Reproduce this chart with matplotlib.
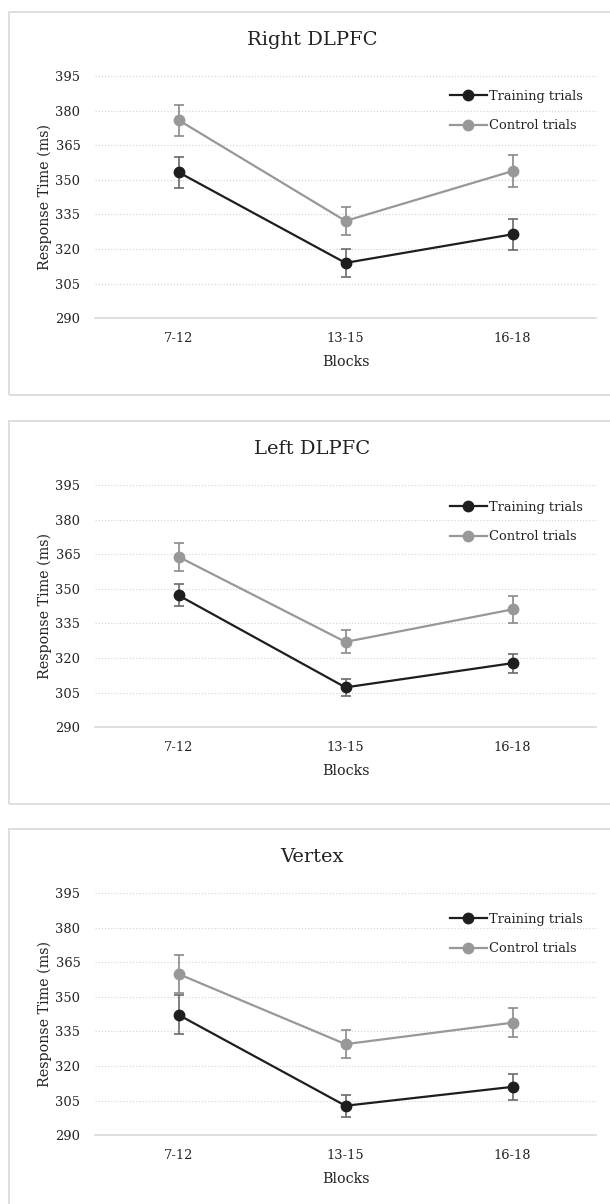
#!/usr/bin/env python3
"""
Response time per block group for the three stimulation sites
(Right DLPFC, Left DLPFC, Vertex), training vs control trials.
"""

import matplotlib
matplotlib.use('Agg')
import matplotlib.pyplot as plt
from matplotlib.patches import Rectangle

# ── Data ─────────────────────────────────────────────────────────────────────
blocks = ["7-12", "13-15", "16-18"]
sites = ["Right DLPFC", "Left DLPFC", "Vertex"]

right_train = [353.3, 314.0, 326.4]
right_train_err = [6.8, 6.2, 6.8]
right_ctrl = [375.9, 332.2, 353.8]
right_ctrl_err = [6.7, 5.9, 7.0]

left_train = [347.2, 307.3, 317.8]
left_train_err = [4.8, 3.7, 4.1]
left_ctrl = [363.9, 327.0, 341.1]
left_ctrl_err = [6.0, 5.0, 5.7]

vertex_train = [342.2, 302.8, 311.0]
vertex_train_err = [8.4, 4.7, 5.5]
vertex_ctrl = [359.9, 329.5, 338.8]
vertex_ctrl_err = [8.3, 6.1, 6.4]

y_ticks = [290, 305, 320, 335, 350, 365, 380, 395]

train_series = [right_train, left_train, vertex_train]
train_errs = [right_train_err, left_train_err, vertex_train_err]
ctrl_series = [right_ctrl, left_ctrl, vertex_ctrl]
ctrl_errs = [right_ctrl_err, left_ctrl_err, vertex_ctrl_err]

# ── Layout (pixel based) ─────────────────────────────────────────────────────
W, H = 610, 1204
FONT = 'DejaVu Serif'
plt.rcParams['font.family'] = FONT

C_TRAIN = '#1e1e1e'
C_CTRL = '#989898'
C_GRID = '#d9d9d9'
C_TEXT = '#222222'

fig = plt.figure(figsize=(W / 100, H / 100), dpi=100)

frame_tops = [12, 421, 829]
frame_h = 383
legend_tops = [78, 80, 84]   # legend anchor below each frame top (px)


def fx(px):
    return px / W


def fy(py):
    return 1 - py / H


for i, ft in enumerate(frame_tops):
    # chart-area border
    fig.patches.append(Rectangle((fx(9), fy(ft + frame_h)), fx(640 - 9), frame_h / H,
                                 transform=fig.transFigure, fill=False,
                                 edgecolor=C_GRID, linewidth=1.2))

    ax_top, ax_bot = ft + 64, ft + 306.3
    ax_left, ax_right = 95, 596
    ax = fig.add_axes([fx(ax_left), fy(ax_bot), fx(ax_right - ax_left), (ax_bot - ax_top) / H])

    x = list(range(len(blocks)))
    ax.errorbar(x, train_series[i], yerr=train_errs[i], fmt='none',
                ecolor='#6a6a6a', elinewidth=1.2, capsize=3.5, capthick=1.2, zorder=2)
    ax.errorbar(x, ctrl_series[i], yerr=ctrl_errs[i], fmt='none',
                ecolor='#8a8a8a', elinewidth=1.2, capsize=3.5, capthick=1.2, zorder=2)
    ax.plot(x, train_series[i], '-o', color=C_TRAIN, linewidth=1.6,
            markersize=7.5, zorder=4, label="Training trials")
    ax.plot(x, ctrl_series[i], '-o', color=C_CTRL, linewidth=1.6,
            markersize=7.5, zorder=3, label="Control trials")

    ax.set_xlim(-0.5, 2.5)
    ax.set_ylim(290, 395)
    ax.set_xticks(x)
    ax.set_xticklabels(blocks)
    ax.set_yticks(y_ticks)
    ax.tick_params(length=0, labelsize=9.4, colors=C_TEXT)
    ax.tick_params(axis='y', pad=10.5)
    ax.tick_params(axis='x', pad=10)

    for s in ['top', 'right', 'left']:
        ax.spines[s].set_visible(False)
    ax.spines['bottom'].set_color(C_GRID)
    ax.spines['bottom'].set_linewidth(1.2)
    for yv in y_ticks[1:]:
        ax.axhline(yv, color=C_GRID, linewidth=0.9, linestyle=(0, (1, 1.5)),
                   zorder=0, clip_on=False)

    ax.set_ylabel("Response Time (ms)", fontsize=10.3, color=C_TEXT)
    ax.yaxis.set_label_coords((45 - ax_left) / (ax_right - ax_left), 0.5)
    ax.yaxis.label.set_va('center')
    ax.set_xlabel("Blocks", fontsize=10.3, color=C_TEXT)
    ax.xaxis.set_label_coords(0.5, -(ft + 350 - ax_bot) / (ax_bot - ax_top))
    ax.xaxis.label.set_va('center')

    fig.text(fx(312), fy(ft + 28), sites[i], fontsize=14, color=C_TEXT,
             ha='center', va='center')

    ax.legend(loc='upper left', bbox_to_anchor=(fx(450), fy(ft + legend_tops[i])),
              bbox_transform=fig.transFigure, frameon=False, fontsize=9.4,
              borderpad=0, borderaxespad=0, handlelength=2.8,
              handletextpad=0.15, labelspacing=1.25, labelcolor=C_TEXT)

fig.savefig("out.png", dpi=100)
plt.close('all')
